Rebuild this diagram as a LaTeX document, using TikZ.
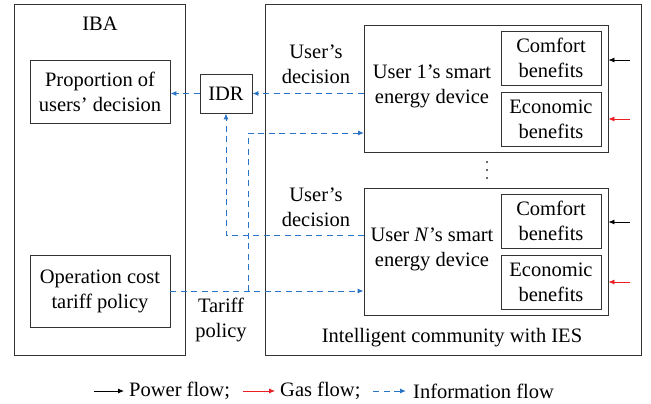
\documentclass[tikz,border=0pt]{standalone}
\usepackage{fontspec}
\setmainfont{Liberation Serif}
\usetikzlibrary{arrows.meta}
\definecolor{infoblue}{RGB}{40,115,195}
\definecolor{gasred}{RGB}{235,30,35}
\begin{document}
\begin{tikzpicture}[x=1pt, y=-1pt, font=\rmfamily\fontsize{20.5}{25}\selectfont,
    info/.style={draw=infoblue, line width=1pt, dash pattern=on 6pt off 4.5pt, -{Latex[length=6pt,width=5pt]}},
    flow/.style={line width=0.8pt, -{Latex[length=6pt,width=5pt]}}]
    \useasboundingbox (0,0) rectangle (651,404);

    % outer frames
    \begin{scope}[every node/.style={draw=black!80, line width=0.9pt, inner sep=0pt}]
        \node[minimum width=171pt, minimum height=351pt] (iba) at (99.5,179.5) {};
        \node[minimum width=376pt, minimum height=351pt] (ic) at (453,179.5) {};
    \end{scope}

    % boxes
    \begin{scope}[every node/.style={draw=black!80, line width=0.9pt, inner sep=0pt, align=center}]
        \node[minimum width=140pt, minimum height=63pt] (prop) at (100,91.5) {Proportion of\\users' decision};
        \node[minimum width=140pt, minimum height=72pt] (op) at (100,291) {Operation cost\\tariff policy};
        \node[minimum width=52pt, minimum height=39pt] (idr) at (226,93.5) {IDR};
        \node[minimum width=244pt, minimum height=127pt] (u1) at (486,88.5) {};
        \node[minimum width=244pt, minimum height=127pt] (un) at (486,251.5) {};
        \node[minimum width=100pt, minimum height=54pt] (c1) at (551,58) {Comfort\\benefits};
        \node[minimum width=100pt, minimum height=54pt] (e1) at (551,119) {Economic\\benefits};
        \node[minimum width=100pt, minimum height=54pt] (cn) at (551,221) {Comfort\\benefits};
        \node[minimum width=100pt, minimum height=54pt] (en) at (551,282) {Economic\\benefits};
    \end{scope}

    % labels
    \begin{scope}[every node/.style={align=center, inner sep=0pt}]
        \node (ibal) at (100,24) {IBA};
        \node (u1l) at (432,86) {User 1's smart\\energy device};
        \node (unl) at (432,249) {User \textit{N}'s smart\\energy device};
        \node (d1l) at (316,64) {User's\\decision};
        \node (dnl) at (316,207) {User's\\decision};
        \node (tpl) at (221,320) {Tariff\\policy};
        \node (icl) at (452,338) {Intelligent community with IES};
    \end{scope}

    % vertical dots
    \begin{scope}[every node/.style={circle, fill=black!80, inner sep=0pt, minimum size=2.4pt}]
        \foreach \y in {162,170,178}
            \node (dot\y) at (487,\y) {};
    \end{scope}

    % power and gas inputs
    \coordinate (pw1) at (630,60);
    \coordinate (gs1) at (630,119);
    \coordinate (pwn) at (630,222);
    \coordinate (gsn) at (630,282);
    \draw[flow] (pw1) -- (pw1 -| u1.east);
    \draw[flow, gasred] (gs1) -- (gs1 -| u1.east);
    \draw[flow] (pwn) -- (pwn -| un.east);
    \draw[flow, gasred] (gsn) -- (gsn -| un.east);

    % information flow
    \coordinate (dn) at (364,235);
    \coordinate (tp) at (248,291);
    \coordinate (t1) at (364,133);
    \draw[info] (idr -| u1.west) -- (idr.east);
    \draw[info] (idr.west) -- (idr.west -| prop.east);
    \draw[info] (dn) -| (idr.south);
    \draw[info] (op.east) -- (op.east -| un.west);
    \draw[info] (tp) |- (t1);

    % legend
    \begin{scope}[every node/.style={anchor=west, inner sep=0pt}]
        \node (lpw) at (129,391) {Power flow;};
        \node (lgs) at (280,391) {Gas flow;};
        \node (lin) at (413,391) {Information flow};
    \end{scope}
    \coordinate (apw) at (94,391);
    \coordinate (ags) at (243,391);
    \coordinate (ain) at (373,391);
    \draw[flow] (apw) -- ([xshift=-5pt]lpw.west);
    \draw[flow, gasred] (ags) -- ([xshift=-5pt]lgs.west);
    \draw[info] (ain) -- ([xshift=-7pt]lin.west);
\end{tikzpicture}
\end{document}
